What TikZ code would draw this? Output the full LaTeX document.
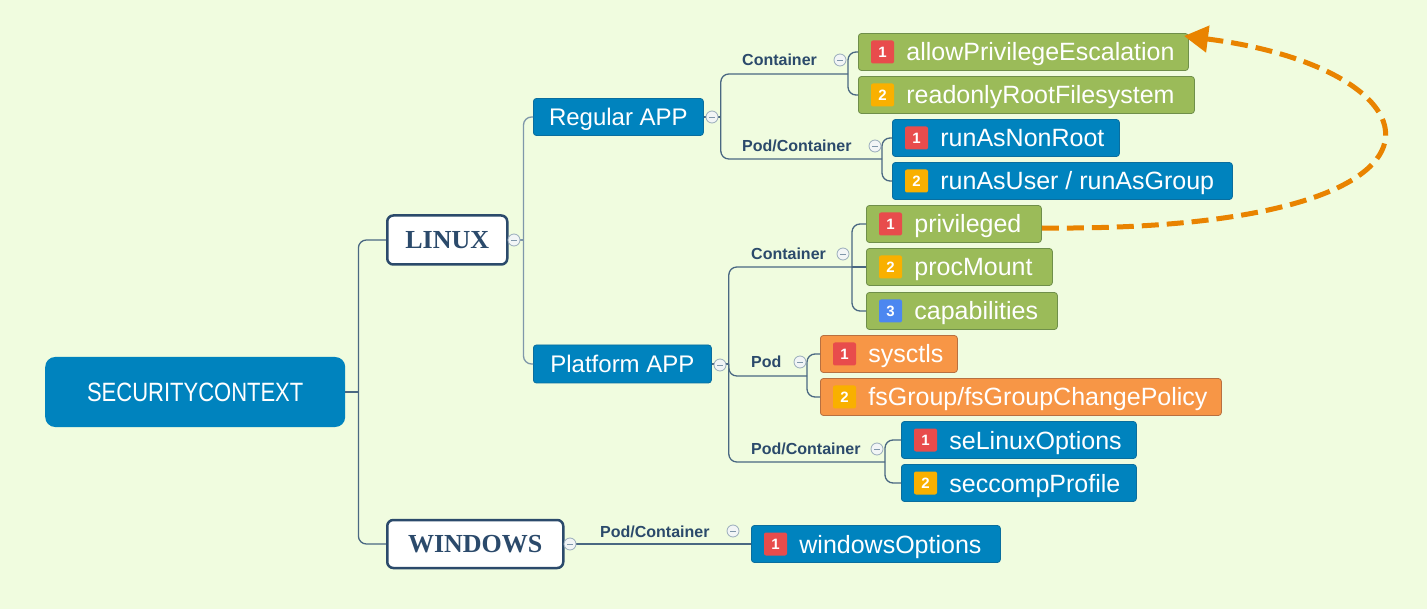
\documentclass[tikz,border=0pt]{standalone}
\usepackage{fontspec}
\setmainfont{Liberation Sans}
\newfontfamily\serifb{Liberation Serif}
\newfontfamily\condfont{Liberation Sans}[FakeStretch=0.83]
\usetikzlibrary{arrows.meta}
\definecolor{bg}{HTML}{F0FCDF}
\definecolor{cblue}{HTML}{0083BE}
\definecolor{cblueD}{HTML}{0A6E9E}
\definecolor{cgreen}{HTML}{9BBB59}
\definecolor{cgreenD}{HTML}{6F8F4A}
\definecolor{corange}{HTML}{F79646}
\definecolor{corangeD}{HTML}{B87040}
\definecolor{bred}{HTML}{E84C4C}
\definecolor{byel}{HTML}{F9B000}
\definecolor{bblu}{HTML}{4C87F0}
\definecolor{labcol}{HTML}{2B4A6B}
\definecolor{conn}{HTML}{4A6882}
\definecolor{connL}{HTML}{7F97AA}
\definecolor{arrcol}{HTML}{E98300}
\newcommand\leaf[8]{%
  \node[#5, minimum width=#4pt] (#1) at (#2,#3) {\makebox[#4pt][l]{\hspace{48pt}#8}};
  \node[badge, fill=#6] (#1b) at ([xshift=24.5pt]#1.west) {#7};}
\begin{document}
\begin{tikzpicture}[x=1pt,y=-1pt,
  base/.style={rectangle, inner sep=0pt, minimum height=37pt, text=white,
    font=\fontsize{24}{28}\selectfont, text height=17pt, text depth=0pt, anchor=west},
  leafbase/.style={base, font=\fontsize{25}{28}\selectfont, text height=18pt, line width=0.8pt, rounded corners=3pt},
  leafG/.style={leafbase, fill=cgreen, draw=cgreenD},
  leafB/.style={leafbase, fill=cblue, draw=cblueD},
  leafO/.style={leafbase, fill=corange, draw=corangeD},
  badge/.style={rectangle, rounded corners=2pt, minimum size=23pt, inner sep=0pt, text=white,
    font=\fontsize{15}{16}\selectfont\bfseries},
  osnode/.style={rectangle, rounded corners=6pt, fill=white, draw=labcol, line width=2.5pt,
    anchor=west, inner sep=0pt, text=labcol, font=\serifb\fontsize{26}{28}\selectfont\bfseries,
    text height=17pt, text depth=0pt},
  lab/.style={anchor=base west, inner sep=0pt, text=labcol, font=\fontsize{16}{18}\selectfont\bfseries},
  coll/.style={circle, minimum size=12pt, inner sep=0pt, draw=connL!80, fill=white!90!connL, line width=0.8pt,
    path picture={\draw[connL, line width=0.9pt] ([xshift=-3pt]path picture bounding box.center) -- ([xshift=3pt]path picture bounding box.center);}},
  cl/.style={draw=conn, line width=1.3pt, rounded corners=8pt},
  clL/.style={draw=connL, line width=1.3pt, rounded corners=8pt}
]
\fill[bg] (0,0) rectangle (1427,609);
\useasboundingbox (0,0) rectangle (1427,609);

% main nodes
\node[base, fill=cblue, rounded corners=10pt, minimum width=300pt, minimum height=70pt,
  font=\condfont\fontsize{26.5}{30}\selectfont, text height=19pt] (sc) at (45,392) {SECURITYCONTEXT};
\node[osnode, minimum width=120pt, minimum height=49pt] (linux) at (386,240) {LINUX};
\node[osnode, minimum width=176pt, minimum height=48pt] (windows) at (386,544) {WINDOWS};
\node[base, fill=cblue, draw=cblueD, line width=0.8pt, rounded corners=3pt, minimum width=170pt] (regular) at (533,117) {Regular APP};
\node[base, fill=cblue, draw=cblueD, line width=0.8pt, rounded corners=3pt, minimum width=178pt, minimum height=38pt] (platform) at (533,364) {Platform APP};

% leaves
\leaf{allow}{858}{52}{330}{leafG}{bred}{1}{allowPrivilegeEscalation}
\leaf{readonly}{858}{95}{336}{leafG}{byel}{2}{readonlyRootFilesystem}
\leaf{nonroot}{892}{138}{227}{leafB}{bred}{1}{runAsNonRoot}
\leaf{runuser}{892}{181}{340}{leafB}{byel}{2}{runAsUser / runAsGroup}
\leaf{priv}{866}{224}{175}{leafG}{bred}{1}{privileged}
\leaf{proc}{866}{267}{186}{leafG}{byel}{2}{procMount}
\leaf{caps}{866}{311}{191}{leafG}{bblu}{3}{capabilities}
\leaf{sysctls}{820}{354}{137}{leafO}{bred}{1}{sysctls}
\leaf{fsgroup}{820}{397}{401}{leafO}{byel}{2}{fsGroup/fsGroupChangePolicy}
\leaf{selinux}{901}{440}{235}{leafB}{bred}{1}{seLinuxOptions}
\leaf{seccomp}{901}{483}{235}{leafB}{byel}{2}{seccompProfile}
\leaf{winopt}{751}{544}{249}{leafB}{bred}{1}{windowsOptions}

% labels
\node[lab] (l1) at (742,66) {Container};
\node[lab] (l2) at (742,152) {Pod/Container};
\node[lab] (l3) at (751,260) {Container};
\node[lab] (l4) at (751,368) {Pod};
\node[lab] (l5) at (751,454) {Pod/Container};
\node[lab] (l6) at (600,537) {Pod/Container};

% junction coordinates
\coordinate (rt) at ([xshift=13pt]sc.east);
\coordinate (lt) at ([xshift=15pt]linux.east);
\coordinate (ra) at ([xshift=17pt]regular.east);
\coordinate (pa) at ([xshift=17pt]platform.east);
\coordinate (j1) at (848,74);
\coordinate (j2) at (882,159);
\coordinate (j3) at (852,267);
\coordinate (j4) at (807,376);
\coordinate (j5) at (885,462);

% connectors
\draw[cl] (sc.east) -- (rt);
\draw[cl] (linux.west) -| (rt) |- (windows.west);
\draw[clL] (linux.east) -- (lt);
\draw[clL] (regular.west) -| (lt) |- (platform.west);
\draw[cl] (regular.east) -- (ra);
\draw[cl] (j1) -| (ra) |- (j2);
\draw[cl] (allow.west) -| (j1) |- (readonly.west);
\draw[cl] (nonroot.west) -| (j2) |- (runuser.west);
\draw[cl] (platform.east) -- (pa);
\draw[cl] (j3) -| (pa) |- (j5);
\draw[cl] (pa) |- (j4);
\draw[cl] (priv.west) -| (j3) |- (caps.west);
\draw[cl] (j3) -- (proc.west);
\draw[cl] (sysctls.west) -| (j4) |- (fsgroup.west);
\draw[cl] (selinux.west) -| (j5) |- (seccomp.west);
\draw[cl] (windows.east) -- (winopt.west);

% collapse markers
\node[coll] (c1) at (514,240) {};
\node[coll] (c2) at (712,117) {};
\node[coll] (c3) at (720,365) {};
\node[coll] (c4) at (570,544) {};
\node[coll] (c5) at (840,60) {};
\node[coll] (c6) at (875,146) {};
\node[coll] (c7) at (843,254) {};
\node[coll] (c8) at (800,362) {};
\node[coll] (c9) at (877,449) {};
\node[coll] (c10) at (733,531) {};

% dashed arrow
\coordinate (arrend) at (1184,36);
\draw[arrcol, line width=5pt, dash pattern=on 17pt off 8pt,
  -{Triangle[length=24pt,width=26pt]}]
  ([yshift=-4pt]priv.east) .. controls (1490,232) and (1450,70) .. (arrend);
\end{tikzpicture}
\end{document}
